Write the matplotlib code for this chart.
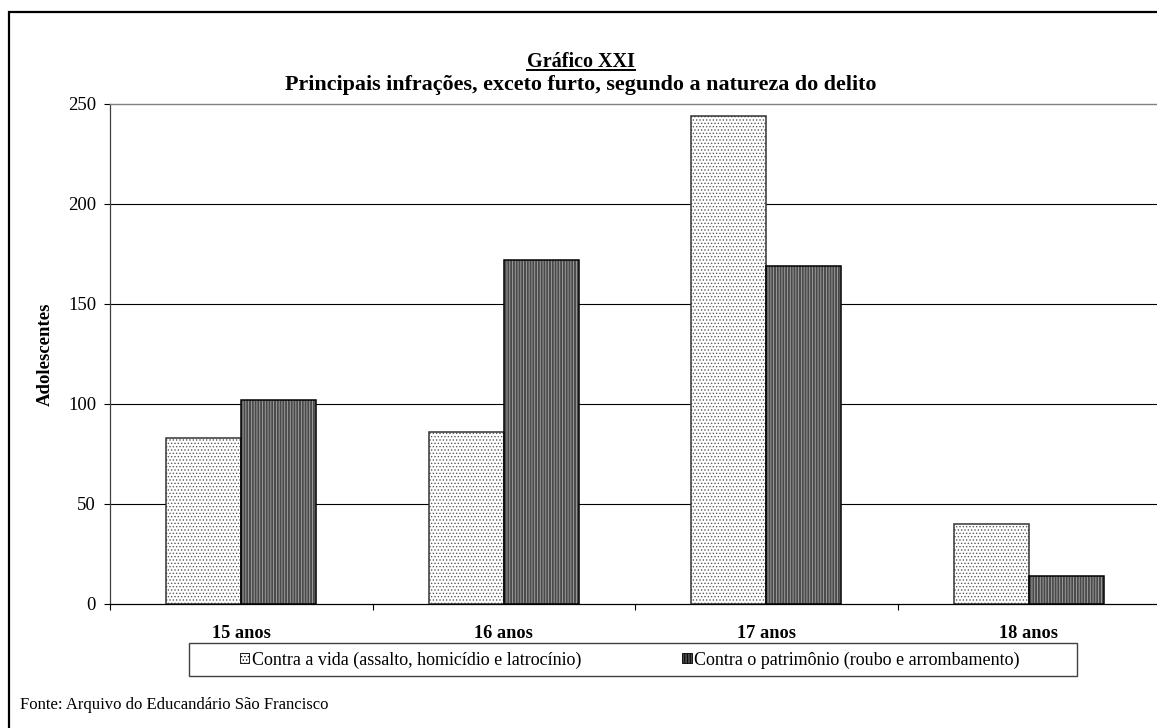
import matplotlib
matplotlib.use("Agg")
import matplotlib.pyplot as plt
import numpy as np
from matplotlib.patches import Patch, Rectangle
from matplotlib.lines import Line2D

plt.rcParams['font.family'] = ['Liberation Serif', 'DejaVu Serif']
plt.rcParams['hatch.linewidth'] = 0.6

categories = ["15 anos", "16 anos", "17 anos", "18 anos"]
contra_vida = [83, 86, 244, 40]
contra_patrimonio = [102, 172, 169, 14]
series_names = ["Contra a vida (assalto, homicídio e latrocínio)",
                "Contra o patrimônio (roubo e arrombamento)"]
yticks = [0, 50, 100, 150, 200, 250]

W, H = 1157, 728
fig = plt.figure(figsize=(W / 100, H / 100), dpi=100)

def fx(px):
    return px / W

def fy(py):
    return 1 - py / H

# outer chart frame (runs past the right and bottom edges)
fig.patches.append(Rectangle((fx(9), fy(760)), fx(1200) - fx(9), fy(12) - fy(760),
                             transform=fig.transFigure, fill=False,
                             edgecolor='black', linewidth=1.6, zorder=0))

ax = fig.add_axes([fx(110), fy(604), fx(1160) - fx(110), fy(104) - fy(604)])

x = np.arange(len(categories)) + 0.5
bw = 0.286

vida_style = dict(facecolor='white', edgecolor='#5a5a5a', hatch='.....')
patr_style = dict(facecolor='#4a4a4a', edgecolor='#a8a8a8', hatch='||||||')

ax.bar(x - bw / 2, contra_vida, bw, linewidth=0, zorder=3, **vida_style)
ax.bar(x + bw / 2, contra_patrimonio, bw, linewidth=0, zorder=3, **patr_style)
ax.bar(x - bw / 2, contra_vida, bw, facecolor='none', edgecolor='#333333',
       linewidth=1.1, zorder=4)
ax.bar(x + bw / 2, contra_patrimonio, bw, facecolor='none', edgecolor='black',
       linewidth=1.1, zorder=4)

ax.set_xlim(0, len(categories))
ax.set_ylim(0, 250)
ax.set_yticks(yticks)
ax.set_yticklabels([str(v) for v in yticks], fontsize=13.5)
ax.tick_params(axis='y', length=4, width=0.8, pad=6, colors='black')

# category boundaries carry tick marks, category centres carry labels
ax.set_xticks(np.arange(0, len(categories) + 1))
ax.set_xticklabels([])
ax.tick_params(axis='x', which='major', length=4, width=0.8)
ax.set_xticks(x, minor=True)
ax.set_xticklabels(categories, minor=True, fontsize=13.2, fontweight='bold')
ax.tick_params(axis='x', which='minor', length=0, pad=15)

for v in yticks[1:-1]:
    ax.axhline(v, color='black', linewidth=0.8, zorder=1)

ax.spines['top'].set_color('#808080')
ax.spines['top'].set_linewidth(1.0)
ax.spines['right'].set_visible(False)
ax.spines['left'].set_color('#404040')
ax.spines['left'].set_linewidth(0.9)
ax.spines['bottom'].set_linewidth(0.9)

fig.text(fx(45), fy(354), "Adolescentes", rotation=90, ha='center', va='center',
         fontsize=13.5, fontweight='bold')

title_base = 67
t1 = fig.text(fx(581), fy(title_base), "Gráfico XXI", ha='center', va='baseline',
              fontsize=14.5, fontweight='bold')
fig.text(fx(581), fy(90), "Principais infrações, exceto furto, segundo a natureza do delito",
         ha='center', va='baseline', fontsize=15.8, fontweight='bold')

fig.text(fx(20), fy(705), "Fonte: Arquivo do Educandário São Francisco",
         ha='left', va='center', fontsize=12)

# legend box
fig.patches.append(Rectangle((fx(189), fy(676)), fx(1077) - fx(189), fy(643) - fy(676),
                             transform=fig.transFigure, fill=True, facecolor='white',
                             edgecolor='#404040', linewidth=1.0, zorder=1))
handles = [Patch(linewidth=0.6, **vida_style), Patch(linewidth=0.6, **patr_style)]
for h in handles:
    h.set_edgecolor('black')
leg = fig.legend(handles, series_names, loc='center',
                 bbox_to_anchor=(fx(630), fy(660)), ncol=2, frameon=False,
                 fontsize=13, handlelength=0.5, handleheight=0.5,
                 handletextpad=0.15, columnspacing=5.6, borderpad=0)

# underline under the chart number
fig.canvas.draw()
bb = t1.get_window_extent()
uy = fy(title_base + 3)
fig.add_artist(Line2D([bb.x0 / W, bb.x1 / W], [uy, uy],
                      transform=fig.transFigure, color='black', linewidth=1.4))

fig.savefig("out.png", dpi=100)
